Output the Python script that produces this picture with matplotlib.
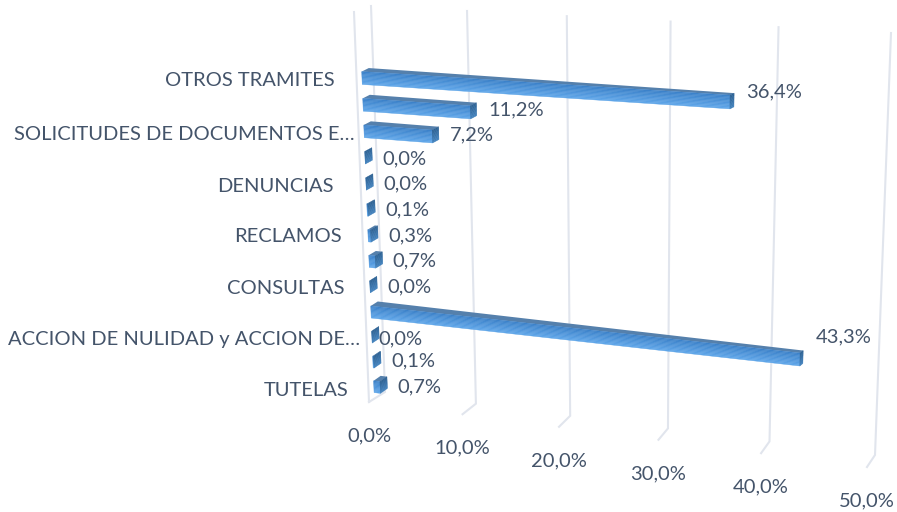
import numpy as np
import matplotlib
matplotlib.use('Agg')
import matplotlib.pyplot as plt
from matplotlib.patches import Polygon

plt.rcParams['font.family'] = ['Lato', 'DejaVu Sans']

# bottom row first
values = [0.7, 0.1, 0.0, 43.3, 0.0, 0.7, 0.3, 0.1, 0.0, 0.0, 7.2, 11.2, 36.4]
tick_labels = ['TUTELAS', 'ACCION DE NULIDAD y ACCION DE…', 'CONSULTAS', 'RECLAMOS',
               'DENUNCIAS', 'SOLICITUDES DE DOCUMENTOS E…', 'OTROS TRAMITES']
tick_rows = [0, 2, 4, 6, 8, 10, 12]
axis_ticks = [0, 10, 20, 30, 40, 50]
axis_labels = ['0,0%', '10,0%', '20,0%', '30,0%', '40,0%', '50,0%']

# hand placed, Excel does not keep these regular (pixels)
value_label_x = [397, 391, 378, 816, 387, 392, 388, 385, 383, 382, 450, 488, 746]
value_label_y = [387, 361, 339, 337, 287, 261, 236, 210, 184, 159, 135, 110, 92]
tick_label_right = [348, 360, 344, 342, 334, 355, 335]
tick_label_y = [390, 340, 289, 237, 186, 135, 81]

TEXT = '#44546A'
GRID = '#E1E5ED'


def homography(src, dst):
    a, b = [], []
    for (x, y), (u, v) in zip(src, dst):
        a.append([x, y, 1, 0, 0, 0, -u * x, -u * y])
        a.append([0, 0, 0, x, y, 1, -v * x, -v * y])
        b += [u, v]
    h = np.append(np.linalg.solve(np.array(a, float), np.array(b, float)), 1).reshape(3, 3)

    def project(x, y):
        p = h @ np.array([x, y, 1.0])
        return p[0] / p[2], p[1] / p[2]
    return project


# value/row -> pixels for the bar faces, value/height for the wall, value/depth for the floor
bar_front = homography([(0, 12), (36.4, 12), (0, 3), (43.3, 3)],
                       [(362, 78), (730, 102), (371, 312), (800, 359.5)])
bar_back = homography([(0, 12), (36.4, 12), (0, 3), (43.3, 3)],
                      [(369, 74.5), (734, 100), (378, 307.5), (803, 357)])
wall = homography([(0, 0), (0, 1), (50, 0), (50, 1)],
                  [(385, 392), (371, 6), (875, 455), (891, 33)])
floor = homography([(0, 0), (0, 1), (50, 0), (50, 1)],
                   [(385, 392), (369, 402), (875, 455), (867, 467)])

fig = plt.figure(figsize=(8.97, 5.12), dpi=100)
ax = fig.add_axes([0, 0, 1, 1])
ax.set_xlim(0, 897)
ax.set_ylim(512, 0)
ax.axis('off')

for t in axis_ticks:
    pts = [floor(t, 1), wall(t, 0), wall(t, 1)]
    ax.plot(*zip(*pts), color=GRID, lw=1.5, solid_joinstyle='miter', zorder=1)
ax.plot([369, 354], [402, 12], color=GRID, lw=1.5, zorder=1)

half = 0.24
strips = 10
dark = np.array(matplotlib.colors.to_rgb('#3C82CA'))
light = np.array(matplotlib.colors.to_rgb('#5EA5E8'))
end_dark = np.array(matplotlib.colors.to_rgb('#2A5F92'))
end_light = np.array(matplotlib.colors.to_rgb('#3F7FBA'))

for r in range(len(values) - 1, -1, -1):
    v = values[r]
    # top face
    ax.add_patch(Polygon([bar_front(0, r + half), bar_back(0, r + half),
                          bar_back(v, r + half), bar_front(v, r + half)],
                         fc='#5580AC', ec='none', zorder=2 + (12 - r) * 0.01))
    # front face, darker at the top
    for i in range(strips):
        r0 = r + half - 2 * half * i / strips
        r1 = r + half - 2 * half * (i + 1) / strips
        c = dark + (light - dark) * i / (strips - 1)
        ax.add_patch(Polygon([bar_front(0, r0), bar_front(v, r0), bar_front(v, r1), bar_front(0, r1)],
                             fc=c, ec=c, lw=0.3, zorder=2 + (12 - r) * 0.01))
    # end face
    for i in range(strips):
        r0 = r + half - 2 * half * i / strips
        r1 = r + half - 2 * half * (i + 1) / strips
        c = end_dark + (end_light - end_dark) * i / (strips - 1)
        ax.add_patch(Polygon([bar_front(v, r0), bar_back(v, r0), bar_back(v, r1), bar_front(v, r1)],
                             fc=c, ec=c, lw=0.3, zorder=2 + (12 - r) * 0.01))
    ax.text(value_label_x[r], value_label_y[r], f'{v:.1f}%'.replace('.', ','),
            color=TEXT, fontsize=14.5, ha='left', va='center', zorder=5)

for name, x, y in zip(tick_labels, tick_label_right, tick_label_y):
    ax.text(x, y, name, color=TEXT, fontsize=14.5, ha='right', va='center', zorder=5)

for t, name in zip(axis_ticks, axis_labels):
    x, y = floor(t, 1)
    ax.text(x, y + 34, name, color=TEXT, fontsize=14.5, ha='center', va='center', zorder=5)

fig.savefig('out.png', dpi=100)
